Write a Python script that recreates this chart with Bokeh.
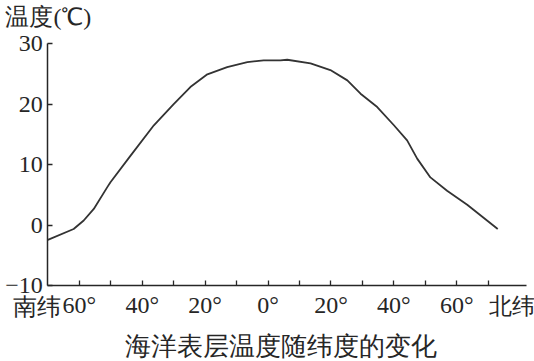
from bokeh.plotting import figure
from bokeh.models import FixedTicker, Range1d, Label, LinearAxis
from bokeh.embed import file_html
from bokeh.resources import INLINE

# Data: sea-surface temperature vs latitude
latitude = [-70.0, -61.8, -58.6, -55.4, -51.1, -50.1, -43.7, -36.3, -30.0, -24.7,
            -19.3, -13.0, -6.6, -1.4, 3.9, 6.1, 13.5, 19.8, 25.2, 29.4,
            34.7, 40.0, 44.2, 47.4, 51.6, 56.9, 63.3, 73.0]
temperature = [-2.4, -0.6, 0.8, 2.7, 6.3, 7.1, 11.5, 16.5, 20.0, 22.8,
               24.9, 26.1, 26.9, 27.2, 27.2, 27.3, 26.7, 25.6, 23.9, 21.7,
               19.5, 16.5, 14.0, 11.0, 7.9, 5.7, 3.4, -0.6]

x_ticks = [-60, -50, -40, -30, -20, -10, 0, 10, 20, 30, 40, 50, 60, 70]
x_tick_labels = {-60: "60°", -40: "40°", -20: "20°", 0: "0°", 20: "20°", 40: "40°", 60: "60°"}
y_ticks = [-10, 0, 10, 20, 30]
y_tick_labels = {-10: "−10", 0: "0", 10: "10", 20: "20", 30: "30"}

y_title = "温度(℃)"
south_label = "南纬"
north_label = "北纬"
caption = "海洋表层温度随纬度的变化"

FONT = "Liberation Serif"
INK = "#262626"

p = figure(width=534, height=361, output_backend="svg", toolbar_location=None,
           x_range=Range1d(-85.05, 84.69), y_range=Range1d(-22.45, 37.07),
           x_axis_location=None, y_axis_location=None,
           min_border=0)
p.outline_line_color = None
p.xgrid.visible = False
p.ygrid.visible = False
p.background_fill_color = "white"
p.border_fill_color = "white"

p.line(latitude, temperature, line_color="#333333", line_width=1.8)

xaxis = LinearAxis(fixed_location=-10, bounds=(-70, 82),
                   ticker=FixedTicker(ticks=x_ticks),
                   major_label_overrides={t: x_tick_labels.get(t, "") for t in x_ticks},
                   major_label_standoff=6)
yaxis = LinearAxis(fixed_location=-70, bounds=(-10, 30),
                   ticker=FixedTicker(ticks=y_ticks),
                   major_label_overrides=y_tick_labels,
                   major_label_standoff=5)
for ax in (xaxis, yaxis):
    ax.axis_line_color = INK
    ax.axis_line_width = 1.5
    ax.major_tick_line_color = INK
    ax.major_tick_line_width = 1.3
    ax.major_tick_in = 5
    ax.major_tick_out = 0
    ax.minor_tick_line_color = None
    ax.major_label_text_font = FONT
    ax.major_label_text_font_size = "24px"
    ax.major_label_text_color = INK
p.add_layout(xaxis, "below")
p.add_layout(yaxis, "left")

p.add_layout(Label(x=-83.5, y=34.4, text=y_title, text_font=FONT, text_font_size="24px",
                   text_color=INK, text_align="left", text_baseline="middle"))
p.add_layout(Label(x=-73.6, y=-13.4, text=south_label, text_font=FONT, text_font_size="24px",
                   text_color=INK, text_align="center", text_baseline="middle"))
p.add_layout(Label(x=77.5, y=-13.4, text=north_label, text_font=FONT, text_font_size="23px",
                   text_color=INK, text_align="center", text_baseline="middle"))
p.add_layout(Label(x=4.0, y=-19.9, text=caption, text_font=FONT, text_font_size="26px",
                   text_color=INK, text_align="center", text_baseline="middle"))

open("out.html", "w").write(file_html(p, INLINE))
